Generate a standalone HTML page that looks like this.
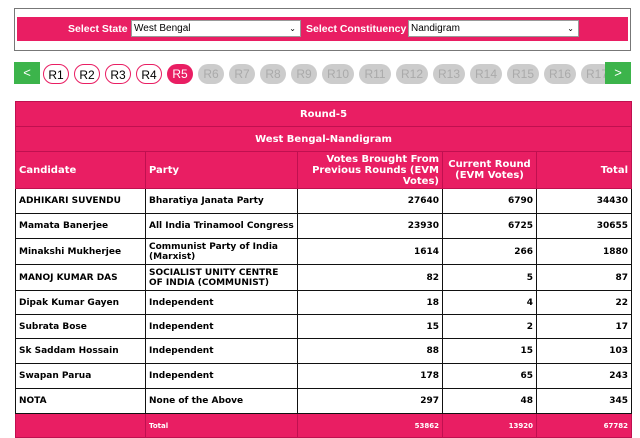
<!DOCTYPE html>
<html><head><meta charset="utf-8"><style>
body{margin:0;width:640px;height:438px;background:#fff;font-family:"DejaVu Sans","Liberation Sans",sans-serif;position:relative;overflow:hidden}
.box{position:absolute;left:14px;top:8px;width:615px;height:41px;border:1px solid #777}
.band{position:absolute;left:2px;top:8px;width:611px;height:24px;background:#e91e63;}
.lbl{position:absolute;top:6px;color:#fff;font-weight:bold;font-size:10.5px;font-family:"Liberation Sans",sans-serif}
.sel{position:absolute;top:3px;height:17px;background:#fff;border:1px solid #999;font-family:"Liberation Sans",sans-serif;font-size:10px;line-height:15px;padding-left:2px;box-sizing:border-box}
.sel span{position:absolute;right:4px;top:0;font-size:8px}
.rb{position:absolute;top:64px;height:20px;border-radius:10px;font-family:"Liberation Sans",sans-serif;font-size:12px;line-height:20px;text-align:center;box-sizing:border-box}
.w{border:1px solid #e91e63;background:#fff;color:#000}
.g{background:#ccc;color:#aaa}
.p{background:#e91e63;color:#fff}
.nav{position:absolute;top:62px;width:26px;height:22px;background:#3cb44b;color:#fff;font-size:13px;text-align:center;line-height:22px;font-family:"Liberation Sans",sans-serif;z-index:2}
table{position:absolute;left:15px;top:101px;width:616px;border-collapse:collapse;font-size:9px;font-weight:bold;table-layout:fixed}
td,th{border:1px solid #111;padding:0 3px;height:24px;box-sizing:border-box}
.h td,.h th{background:#e91e63;color:#fff;border-color:#c01050;font-size:10px}
.n{text-align:right}
</style></head><body>
<div class="box">
 <div class="band">
  <span class="lbl" style="left:51px">Select State</span>
  <div class="sel" style="left:114px;width:170px">West Bengal<span>&#8964;</span></div>
  <span class="lbl" style="left:289px">Select Constituency</span>
  <div class="sel" style="left:391px;width:171px">Nandigram<span>&#8964;</span></div>
 </div>
</div>
<div class="nav" style="left:14px">&lt;</div>
<div class="nav" style="left:605px">&gt;</div>
<div id="rounds"></div>
<table>
<colgroup><col style="width:130px"><col style="width:152px"><col style="width:145px"><col style="width:94px"><col style="width:95px"></colgroup>
<tr class="h"><td colspan="5" style="text-align:center;height:25px">Round-5</td></tr>
<tr class="h"><td colspan="5" style="text-align:center;height:25px">West Bengal-Nandigram</td></tr>
<tr class="h"><td style="height:37px">Candidate</td><td>Party</td><td class="n" style="line-height:11px">Votes Brought From Previous Rounds (EVM Votes)</td><td style="text-align:center;line-height:11px">Current Round (EVM Votes)</td><td class="n">Total</td></tr>
<tbody id="rows"></tbody>
<tr class="h"><td style="height:24px"></td><td style="font-size:7px">Total</td><td class="n" style="font-size:7px">53862</td><td class="n" style="font-size:7px">13920</td><td class="n" style="font-size:7px">67782</td></tr>
</table>
<script>
const rounds=['R1','R2','R3','R4','R5','R6','R7','R8','R9','R10','R11','R12','R13','R14','R15','R16','R17'];
const rc=document.getElementById('rounds');let x=43;
rounds.forEach((r,i)=>{const d=document.createElement('div');const wd=r.length>2?32:26;
d.className='rb '+(i<4?'w':i==4?'p':'g');d.style.left=x+'px';d.style.width=wd+'px';d.textContent=r;


rc.appendChild(d);x+=wd+5;});
const cands=['ADHIKARI SUVENDU','Mamata Banerjee','Minakshi Mukherjee','MANOJ KUMAR DAS','Dipak Kumar Gayen','Subrata Bose','Sk Saddam Hossain','Swapan Parua','NOTA'];
const parties=['Bharatiya Janata Party','All India Trinamool Congress','Communist Party of India (Marxist)','SOCIALIST UNITY CENTRE OF INDIA (COMMUNIST)','Independent','Independent','Independent','Independent','None of the Above'];
const prev=[27640,23930,1614,82,18,15,88,178,297];
const cur=[6790,6725,266,5,4,2,15,65,48];
const tot=[34430,30655,1880,87,22,17,103,243,345];
const rowH=[25,25,26,26,24,24,25,25,25];
const tb=document.getElementById('rows');
cands.forEach((c,i)=>{const tr=document.createElement('tr');


tr.innerHTML='<td style="height:'+rowH[i]+'px">'+c+'</td><td style="line-height:10px">'+parties[i]+'</td><td class="n">'+prev[i]+'</td><td class="n">'+cur[i]+'</td><td class="n">'+tot[i]+'</td>';
tb.appendChild(tr);});
</script>
</body></html>
